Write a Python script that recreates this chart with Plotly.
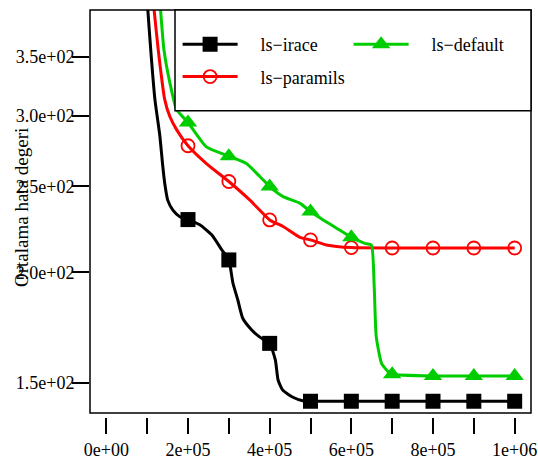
import plotly.graph_objects as go

# ---------------- data ----------------
x_tick_vals = [0, 100000, 200000, 300000, 400000, 500000, 600000, 700000, 800000, 900000, 1000000]
x_tick_text = ["0e+00", "", "2e+05", "", "4e+05", "", "6e+05", "", "8e+05", "", "1e+06"]
y_tick_vals = [150, 200, 250, 300, 350]
y_tick_text = ["1.5e+02", "2.0e+02", "2.5e+02", "3.0e+02", "3.5e+02"]
marker_x = [200000, 300000, 400000, 500000, 600000, 700000, 800000, 900000, 1000000]

irace_x = [100000, 101600, 110000, 119000, 131000, 138000, 143000, 150500, 163000, 180000,
           200000, 229000, 258000, 283000, 300000, 310000, 322000, 334000, 356000,
           376000, 400000, 414000, 420600, 432000, 457000, 481000,
           500000, 600000, 700000, 800000, 900000, 1000000]
irace_y = [405, 395, 350, 313, 285, 264, 252, 241, 235, 231,
           229.3, 226.2, 220.4, 211.9, 206.5, 194.5, 186.1, 177.5, 172.2,
           169.0, 166.3, 159.2, 151.2, 147.3, 144.6, 143.3,
           143.1, 143.1, 143.1, 143.1, 143.1, 143.1]

paramils_x = [112000, 117000, 127000, 143000, 155500, 172000,
              200000, 245000, 300000, 351000, 400000, 433000, 474000,
              500000, 539000, 600000, 700000, 800000, 900000, 1000000]
paramils_y = [415, 395, 356.5, 313, 299.6, 289.6,
              277.7, 265.2, 253.1, 241.3, 229.1, 225.2, 219.0,
              217.5, 214.7, 213.2, 213.0, 213.0, 213.0, 213.0]

default_x = [131000, 132700, 141000, 155500, 172000,
             200000, 245000, 300000, 343000, 376000, 400000, 433000, 474000,
             500000, 531000, 564000, 600000, 633000, 649000, 656000, 661000,
             674000, 690000, 700000, 800000, 900000, 1000000]
default_y = [405, 395.5, 356.5, 327.2, 305.1,
             295.0, 276.9, 270.3, 265.2, 256.4, 249.8, 243.4, 239.3,
             234.1, 229.1, 224.2, 219.0, 215.6, 214.7, 192.7, 169.2,
             157.9, 154.5, 153.5, 152.8, 152.8, 152.8]

series = [
    ("ls\u2212irace", irace_x, irace_y, "#000000", "square", 15, "legend"),
    ("ls\u2212paramils", paramils_x, paramils_y, "#FF0000", "circle-open", 13, "legend"),
    ("ls\u2212default", default_x, default_y, "#00CD00", "triangle-up", 16, "legend2"),
]

FONT = "'Liberation Serif', 'Times New Roman', Times, serif"
PAD = "\u2002\u2002"

fig = go.Figure()
for gi, (name, xs, ys, col, sym, ms, leg) in enumerate(series):
    fig.add_trace(go.Scatter(x=xs, y=ys, mode="lines", showlegend=False,
                             line=dict(color=col, width=3, shape="spline", smoothing=0.5),
                             hoverinfo="skip"))
    my = [ys[xs.index(m)] for m in marker_x]
    fig.add_trace(go.Scatter(x=marker_x, y=my, mode="markers", showlegend=False,
                             marker=dict(symbol=sym, size=ms, color=col,
                                         line=dict(width=1.8 if "open" in sym else 0, color=col))))
    fig.add_trace(go.Scatter(x=[None], y=[None], mode="lines+markers", name=PAD + name,
                             legend=leg, legendgroup=str(gi),
                             line=dict(color=col, width=3),
                             marker=dict(symbol=sym, size=ms, color=col,
                                         line=dict(width=1.8 if "open" in sym else 0, color=col))))

W, H = 538, 469
ml, mr, mt, mb = 90, 7, 10, 52
plot_h = H - mt - mb  # 407

fig.update_layout(
    width=W, height=H,
    margin=dict(l=ml, r=mr, t=mt, b=mb, pad=0, autoexpand=False),
    paper_bgcolor="white", plot_bgcolor="white",
    font=dict(family=FONT, size=18, color="black"),
    xaxis=dict(range=[-40000, 1040000], tickvals=x_tick_vals, ticktext=x_tick_text,
               ticks="outside", ticklen=16, tickwidth=1.5, tickcolor="black",
               showgrid=False, zeroline=False, showline=False,
               anchor="free", position=0),
    yaxis=dict(type="log", range=[2.1424, 2.5966], domain=[4 / plot_h, 1],
               tickvals=y_tick_vals, ticktext=y_tick_text,
               ticks="outside", ticklen=17, tickwidth=1.5, tickcolor="black",
               ticklabelstandoff=-6,
               showgrid=False, zeroline=False, showline=False),
    legend=dict(x=(182 - ml) / 441 - 0.01, y=1 - 16 / plot_h, xanchor="left", yanchor="top",
                bgcolor="rgba(0,0,0,0)", borderwidth=0, itemwidth=55,
                tracegroupgap=6, traceorder="grouped",
                font=dict(family=FONT, size=18, color="black")),
    legend2=dict(x=(353 - ml) / 441 - 0.01, y=1 - 16 / plot_h, xanchor="left", yanchor="top",
                 bgcolor="rgba(0,0,0,0)", borderwidth=0, itemwidth=55,
                 font=dict(family=FONT, size=18, color="black")),
    shapes=[
        dict(type="rect", xref="x domain", yref="y domain", x0=0, x1=1, y0=0, y1=1,
             line=dict(color="black", width=1.5), layer="above"),
        dict(type="rect", xref="x domain", yref="y domain", x0=(175 - ml) / 441, x1=1,
             y0=(414 - 111) / 404, y1=1, fillcolor="white",
             line=dict(color="black", width=1.5), layer="above"),
    ],
    annotations=[
        dict(text="Ortalama hata degeri", xref="paper", yref="paper",
             x=(21 - ml) / 441, y=(417 - 208) / plot_h, xanchor="center", yanchor="middle",
             textangle=-90, showarrow=False, font=dict(family=FONT, size=19, color="black")),
    ],
)

fig.write_html("out.html")
